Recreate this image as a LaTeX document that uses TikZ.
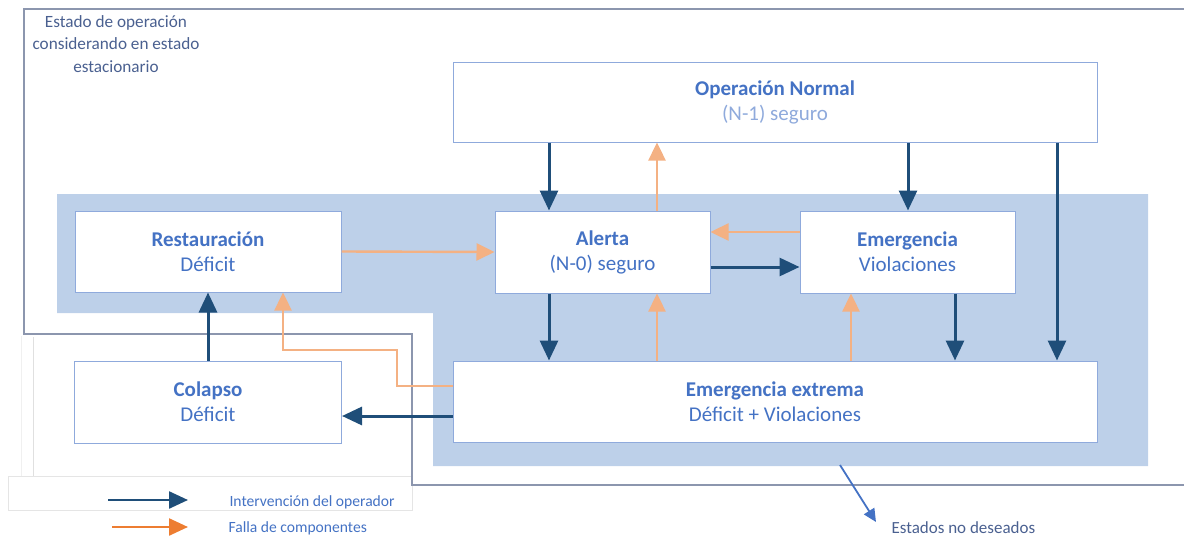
\documentclass[tikz,border=0pt]{standalone}
\usepackage{fontspec}
\setmainfont{Carlito}
\usetikzlibrary{arrows.meta,calc}

\definecolor{regionblue}{HTML}{BDD0E9}
\definecolor{boxline}{HTML}{8FAADC}
\definecolor{frameline}{HTML}{8C96AE}
\definecolor{opblue}{HTML}{1F4E79}
\definecolor{failor}{HTML}{F4B183}
\definecolor{legor}{HTML}{ED7D31}
\definecolor{txtblue}{HTML}{4472C4}
\definecolor{txtlight}{HTML}{8FAADC}
\definecolor{txtgray}{HTML}{4A6090}

\tikzset{
  statebox/.style={draw=boxline, line width=1pt, fill=white, align=center,
    inner sep=0pt, text=txtblue, font=\fontsize{21}{25}\selectfont},
  opflow/.style={draw=opblue, line width=3pt,
    -{Triangle[length=20pt,width=18pt]}},
  failflow/.style={draw=failor, line width=2.4pt,
    -{Triangle[length=18pt,width=17pt]}},
  frame/.style={draw=frameline, line width=1.4pt},
}

\begin{document}
\begin{tikzpicture}[x=1pt,y=-1pt]
\useasboundingbox (0,0) rectangle (1184,538);

% shaded region of the alert / emergency states
\fill[regionblue] (57,194) -- (1148,194) -- (1148,466) -- (433,466) -- (433,313)
  -- (57,313) -- cycle;

% faint inner frame and legend panel
\draw[draw=black!12, line width=0.8pt] (33,337) -- (33,476);
\draw[draw=black!6, line width=0.8pt] (21,336) -- (21,476);
\draw[draw=black!10, line width=0.6pt, fill=white] (8,476) rectangle (412,510);

% boundary of the steady-state operating states
\draw[frame] (1184,9) -- (24,9) -- (24,334) -- (412,334) -- (412,485) -- (1184,485);

\node[text=txtgray, align=center, font=\fontsize{17.2}{22}\selectfont] (title)
  at (116,44) {Estado de operación\\considerando en estado\\[1pt]estacionario};

% states
\node[statebox, minimum width=644pt, minimum height=80pt] (on) at (775,102)
  {\textbf{Operación Normal}\\\textcolor{txtlight}{(N-1) seguro}};
\node[statebox, minimum width=266pt, minimum height=81pt] (rest) at (208,251.5)
  {\textbf{Restauración}\\Déficit};
\node[statebox, minimum width=215pt, minimum height=82pt] (al) at (602.5,252)
  {\textbf{Alerta}\\(N-0) seguro};
\node[statebox, minimum width=215pt, minimum height=82pt] (em) at (907.5,252)
  {\textbf{Emergencia}\\Violaciones};
\node[statebox, minimum width=267pt, minimum height=82pt] (col) at (208,402)
  {\textbf{Colapso}\\Déficit};
\node[statebox, minimum width=644pt, minimum height=81pt] (ee) at (775,401.5)
  {\textbf{Emergencia extrema}\\Déficit + Violaciones};

% vertical lanes of the connectors
\coordinate (x1) at (549,0);
\coordinate (x2) at (657,0);
\coordinate (x3) at (851,0);
\coordinate (x4) at (908,0);
\coordinate (x5) at (955,0);
\coordinate (x6) at (1057,0);
\coordinate (x7) at (283,0);
\coordinate (y1) at (0,232);
\coordinate (y2) at (0,267);
\coordinate (y3) at (0,386);
\coordinate (y4) at (0,416);
\coordinate (bendA) at (397,386);
\coordinate (bendB) at (397,350);
\coordinate (bendC) at (283,350);

% operator interventions
\draw[opflow] (x1 |- on.south) -- (x1 |- al.north);
\draw[opflow] (x4 |- on.south) -- (x4 |- em.north);
\draw[opflow] (x6 |- on.south) -- (x6 |- ee.north);
\draw[opflow] (al.east |- y2) -- (em.west |- y2);
\draw[opflow] (x1 |- al.south) -- (x1 |- ee.north);
\draw[opflow] (x5 |- em.south) -- (x5 |- ee.north);
\draw[opflow] (ee.west |- y4) -- (col.east |- y4);
\draw[opflow] (col.north) -- (rest.south);

% component failures
\draw[failflow] (x2 |- al.north) -- (x2 |- on.south);
\draw[failflow] (rest.east) -- (al.west);
\draw[failflow] (em.west |- y1) -- (al.east |- y1);
\draw[failflow] (x2 |- ee.north) -- (x2 |- al.south);
\draw[failflow] (x3 |- ee.north) -- (x3 |- em.south);
\draw[failflow] (ee.west |- y3) -- (bendA) -- (bendB) -- (bendC) -- (x7 |- rest.south);

% undesired states pointer
\coordinate (undA) at (840,465);
\node[anchor=west, text=txtgray, font=\fontsize{17}{20}\selectfont] (und)
  at (888,528) {Estados no deseados};
\draw[draw=txtblue, line width=1.8pt, -{Triangle[length=13pt,width=12pt]}]
  (undA) -- (876,522) coordinate (undB);

% legend
\coordinate (l1a) at (108,500);
\coordinate (l1b) at (188,500);
\coordinate (l2a) at (112,527);
\coordinate (l2b) at (188,527);
\draw[draw=opblue, line width=2.4pt, -{Triangle[length=19pt,width=17pt]}] (l1a) -- (l1b);
\draw[draw=legor, line width=2.4pt, -{Triangle[length=19pt,width=17pt]}] (l2a) -- (l2b);
\node[anchor=west, text=txtblue, font=\fontsize{15.6}{18}\selectfont] (lt1)
  at (226,502) {Intervención del operador};
\node[anchor=west, text=txtblue, font=\fontsize{15.6}{18}\selectfont] (lt2)
  at (225,528) {Falla de componentes};
\end{tikzpicture}
\end{document}
